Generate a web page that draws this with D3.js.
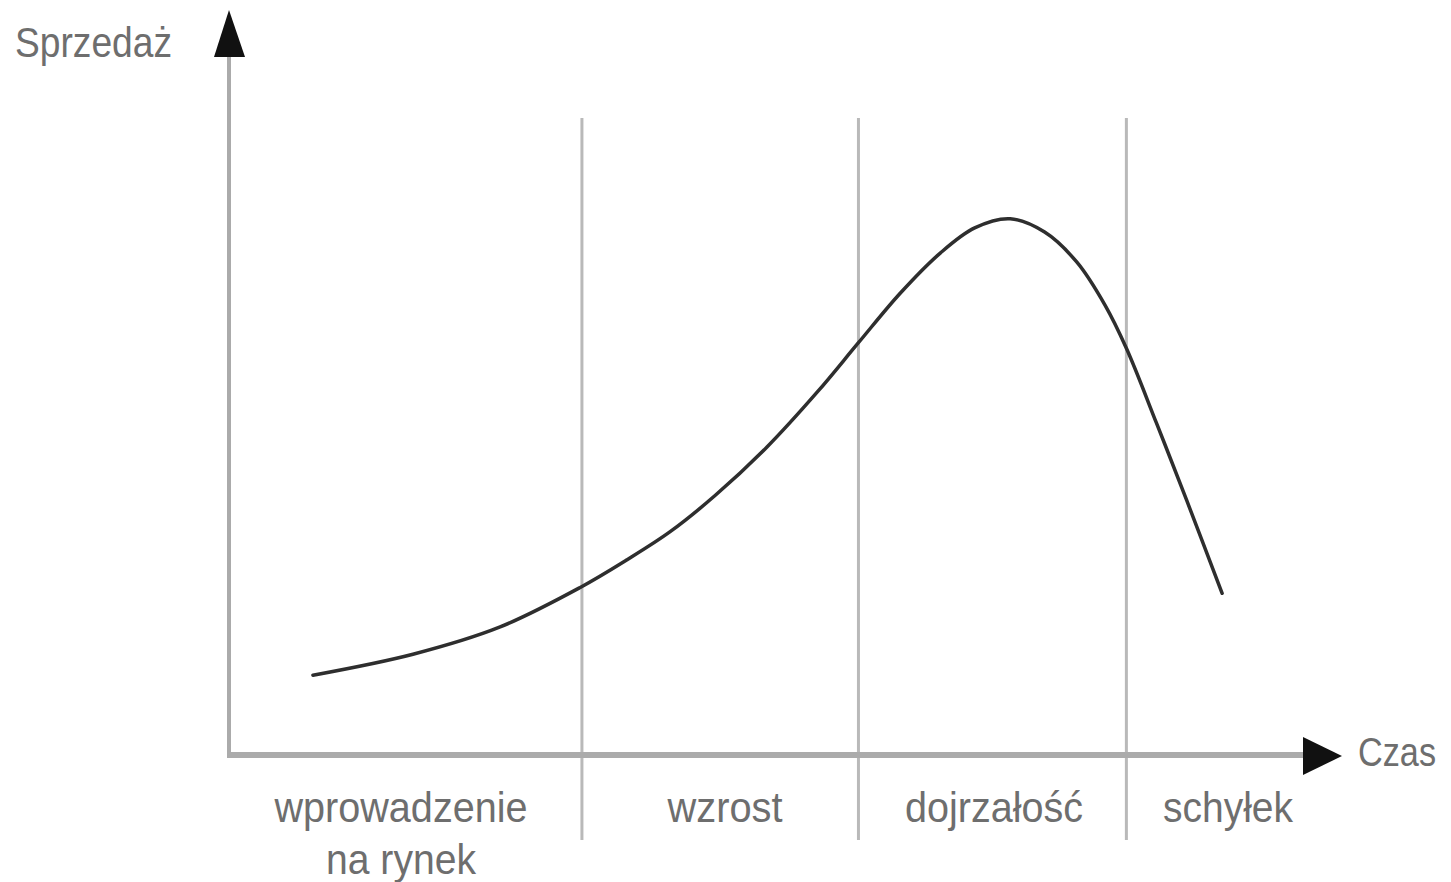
<!DOCTYPE html>
<html>
<head>
<meta charset="utf-8">
<script src="https://cdn.jsdelivr.net/npm/d3@7"></script>
<style>
html,body{margin:0;padding:0;background:#fff;}
svg{display:block;}
text{font-family:"Liberation Sans","DejaVu Sans",sans-serif;fill:#6e6e6e;}
</style>
</head>
<body>
<svg id="chart" width="1451" height="882"></svg>
<script>
// ---- data ----
const timeValues  = [7.8, 17.1, 25.2, 32.6, 37.0, 41.0, 45.2, 50.0, 54.7, 58.5, 62.4, 66.1, 69.3, 72.6, 75.8, 78.8, 81.4, 83.4, 86.2, 89.0, 92.3];
const salesValues = [11.4, 14.4, 18.3, 23.9, 27.9, 31.9, 37.1, 44.0, 51.9, 58.9, 66.0, 71.7, 75.3, 76.6, 74.7, 70.4, 64.3, 58.1, 47.4, 36.4, 23.1];
const phaseBoundaries = [32.8, 58.5, 83.4];
const phaseLabels = [["wprowadzenie", "na rynek"], ["wzrost"], ["dojrzałość"], ["schyłek"]];
const yAxisTitle = "Sprzedaż";
const xAxisTitle = "Czas";

// ---- layout ----
const svg = d3.select("#chart");
const x = d3.scaleLinear().domain([0, 100]).range([229, 1305]);
const y = d3.scaleLinear().domain([0, 100]).range([755, 55]);
const divTop = 118, divBottom = 840;

// phase dividers
svg.selectAll("line.div").data(phaseBoundaries).join("line")
  .attr("class", "div")
  .attr("x1", d => x(d)).attr("x2", d => x(d))
  .attr("y1", divTop).attr("y2", divBottom)
  .attr("stroke", "#b9b9b9").attr("stroke-width", 3);

// axes
svg.append("line").attr("x1", x(0)).attr("x2", x(100)).attr("y1", y(0)).attr("y2", y(0))
  .attr("stroke", "#ababab").attr("stroke-width", 6);
svg.append("line").attr("x1", x(0)).attr("x2", x(0)).attr("y1", y(0) + 3).attr("y2", y(100))
  .attr("stroke", "#ababab").attr("stroke-width", 4);

// arrows
const ax = x(0), ay = y(100);
svg.append("path").attr("d", `M${ax},${ay - 45} L${ax - 15},${ay + 2} L${ax + 16},${ay + 2} Z`).attr("fill", "#111");
const bx = x(100), by = y(0);
svg.append("path").attr("d", `M${bx + 37},${by + 1} L${bx - 2},${by - 18} L${bx - 2},${by + 20} Z`).attr("fill", "#111");

// curve
const pts = timeValues.map((t, i) => [t, salesValues[i]]);
const line = d3.line().x(d => x(d[0])).y(d => y(d[1])).curve(d3.curveCatmullRom.alpha(0.5));
svg.append("path").datum(pts).attr("d", line)
  .attr("fill", "none").attr("stroke", "#2e2e2e").attr("stroke-width", 3.5)
  .attr("stroke-linecap", "round");

// phase labels
const labelSpecs = [
  {cx: 401, lines: [{y: 822, w: 253}, {y: 874, w: 150}]},
  {cx: 725, lines: [{y: 822, w: 115}]},
  {cx: 994, lines: [{y: 822, w: 178}]},
  {cx: 1228, lines: [{y: 822, w: 130}]}
];
phaseLabels.forEach((lbls, i) => {
  lbls.forEach((txt, j) => {
    const s = labelSpecs[i].lines[j];
    svg.append("text").text(txt)
      .attr("x", labelSpecs[i].cx - s.w / 2).attr("y", s.y)
      .attr("font-size", 42)
      .attr("textLength", s.w).attr("lengthAdjust", "spacingAndGlyphs");
  });
});

// axis titles
svg.append("text").text(yAxisTitle).attr("x", 15).attr("y", 57)
  .attr("font-size", 42).attr("textLength", 157).attr("lengthAdjust", "spacingAndGlyphs");
svg.append("text").text(xAxisTitle).attr("x", 1358).attr("y", 766)
  .attr("font-size", 40).attr("textLength", 78).attr("lengthAdjust", "spacingAndGlyphs");
</script>
</body>
</html>
